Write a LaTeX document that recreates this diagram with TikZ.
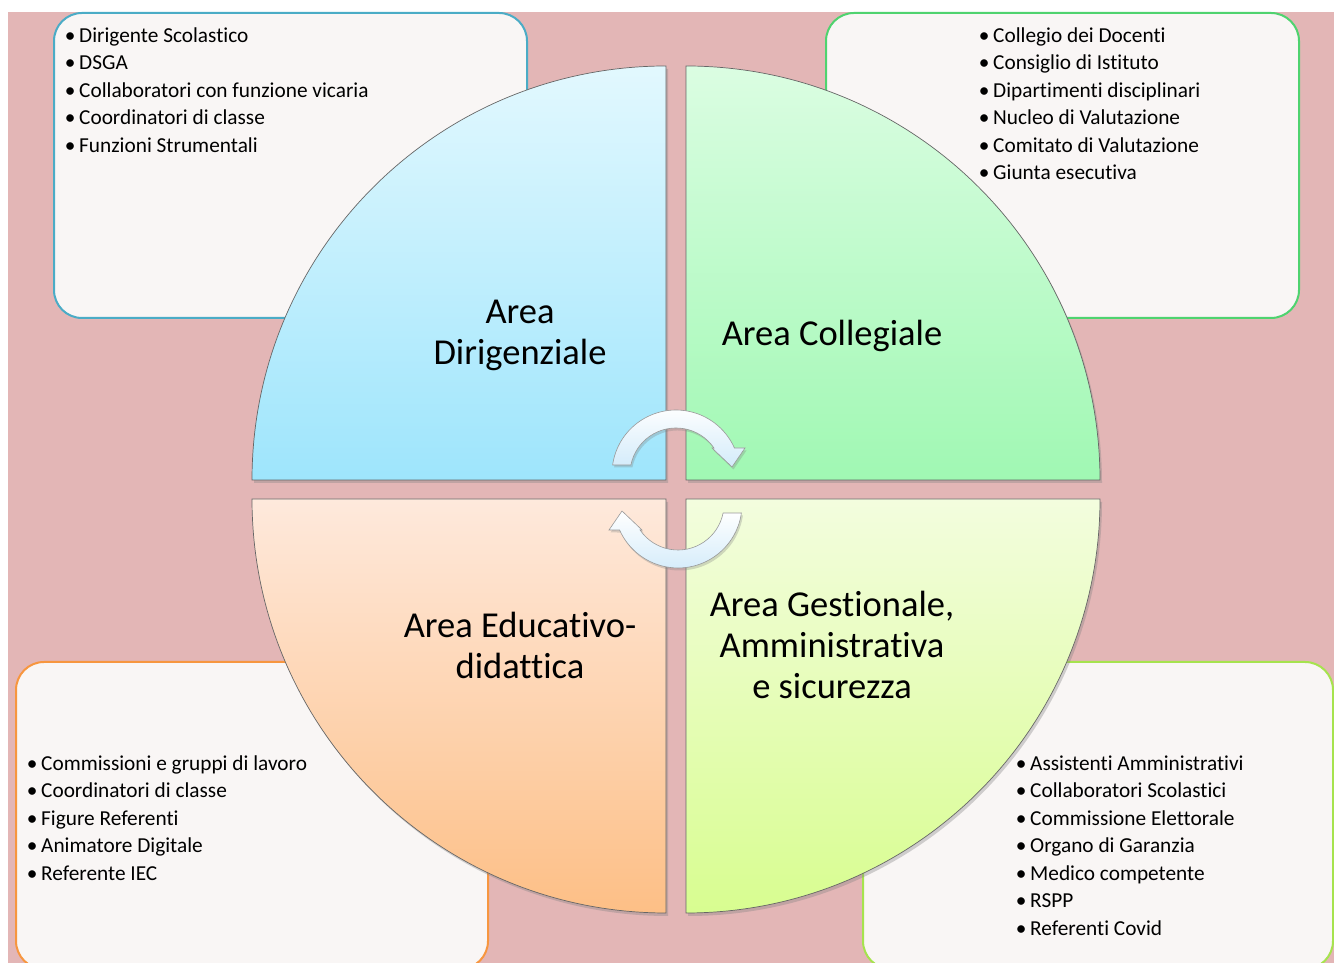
\documentclass[tikz,border=0pt]{standalone}
\usepackage{fontspec}
\setmainfont{Carlito}[Ligatures={NoCommon,NoContextual}]
\usetikzlibrary{shadows}
\definecolor{bgpink}{HTML}{E3B6B6}
\definecolor{boxfill}{HTML}{F9F6F5}
\definecolor{tlc}{HTML}{4BACC6}
\definecolor{trc}{HTML}{4FD36F}
\definecolor{blc}{HTML}{F7963F}
\definecolor{brc}{HTML}{A6E34E}
\definecolor{tltop}{HTML}{E2F8FE}
\definecolor{tlbot}{HTML}{9EE5FC}
\definecolor{trtop}{HTML}{DBFDE2}
\definecolor{trbot}{HTML}{A0F8B3}
\definecolor{bltop}{HTML}{FEE9DC}
\definecolor{blbot}{HTML}{FDBF86}
\definecolor{brtop}{HTML}{F3FDDE}
\definecolor{brbot}{HTML}{D8FD90}
\definecolor{arrbot}{HTML}{D3EBFA}
\newcommand{\lbul}{\makebox[0pt]{\textbullet}\hspace{9pt}}
\tikzset{
  listbox/.style={fill=boxfill, line width=2pt, rounded corners=28pt},
  quarter/.style={draw=black!60, line width=0.7pt, drop shadow={shadow xshift=2pt, shadow yshift=-3pt, opacity=0.35}},
  arrowbody/.style={draw=black!40, line width=0.6pt, top color=white, bottom color=arrbot, drop shadow={shadow xshift=1.5pt, shadow yshift=-2.5pt, opacity=0.3}},
  item/.style={anchor=base west, inner sep=0pt, font=\fontsize{21.3}{25}\selectfont},
  biglabel/.style={anchor=base, inner sep=0pt, font=\fontsize{36.5}{44}\selectfont}
}
\begin{document}
\begin{tikzpicture}[x=1pt,y=1pt]
\useasboundingbox (0,0) rectangle (1334,963);
\clip (0,0) rectangle (1334,963);
\fill[bgpink] (8,0) rectangle (1334,951);
% list boxes
\draw[listbox, draw=tlc] (54,645) rectangle (527,950);
\draw[listbox, draw=trc] (826,645) rectangle (1299,950);
\draw[listbox, draw=blc] (16,-6) rectangle (488,301);
\draw[listbox, draw=brc] (863,-6) rectangle (1333,301);
% lists
\foreach \t [count=\i] in {Dirigente Scolastico, DSGA, Collaboratori con funzione vicaria, Coordinatori di classe, Funzioni Strumentali}
  \node[item] (tl\i) at ({70},{920.5-27.5*(\i-1)}) {\lbul\t};
\foreach \t [count=\i] in {Collegio dei Docenti, Consiglio di Istituto, Dipartimenti disciplinari, Nucleo di Valutazione, Comitato di Valutazione, Giunta esecutiva}
  \node[item] (tr\i) at ({984},{920.5-27.5*(\i-1)}) {\lbul\t};
\foreach \t [count=\i] in {Commissioni e gruppi di lavoro, Coordinatori di classe, Figure Referenti, Animatore Digitale, Referente IEC}
  \node[item] (bl\i) at ({32},{192.5-27.5*(\i-1)}) {\lbul\t};
\foreach \t [count=\i] in {Assistenti Amministrativi, Collaboratori Scolastici, Commissione Elettorale, Organo di Garanzia, Medico competente, RSPP, Referenti Covid}
  \node[item] (br\i) at ({1021},{192.5-27.5*(\i-1)}) {\lbul\t};
% quarters
\path[quarter, top color=tltop, bottom color=tlbot] (666,483) -- (252,483) arc[start angle=180,end angle=90,radius=414] -- cycle;
\path[quarter, top color=trtop, bottom color=trbot] (686,483) -- (686,897) arc[start angle=90,end angle=0,radius=414] -- cycle;
\path[quarter, top color=bltop, bottom color=blbot] (666,464) -- (252,464) arc[start angle=180,end angle=270,radius=414] -- cycle;
\path[quarter, top color=brtop, bottom color=brbot] (686,464) -- (1100,464) arc[start angle=0,end angle=-90,radius=414] -- cycle;
% labels
\node[biglabel] (dir1) at (520,639) {Area};
\node[biglabel] (dir2) at (520,598) {Dirigenziale};
\node[biglabel] (col1) at (832,617.5) {Area Collegiale};
\node[biglabel] (edu1) at (520,325.5) {Area Educativo-};
\node[biglabel] (edu2) at (520,284.5) {didattica};
\node[biglabel] (ges1) at (832,346.5) {Area Gestionale,};
\node[biglabel] (ges2) at (832,305.5) {Amministrativa};
\node[biglabel] (ges3) at (832,264.5) {e sicurezza};
% circular arrows
\begin{scope}[shift={(676,489)}]
\path[arrowbody] (-63.4,9) arc[start angle=171.9,end angle=24,radius=64] -- (69,26) -- (56,7) -- (36,26) -- (37.96,26) arc[start angle=34.4,end angle=168.7,radius=46] -- cycle;
\end{scope}
\begin{scope}[shift={(678,459)}]
\path[arrowbody] (63.4,-9) arc[start angle=351.9,end angle=204,radius=64] -- (-69,-26) -- (-56,-7) -- (-36,-26) -- (-37.96,-26) arc[start angle=214.4,end angle=348.7,radius=46] -- cycle;
\end{scope}
\end{tikzpicture}
\end{document}
